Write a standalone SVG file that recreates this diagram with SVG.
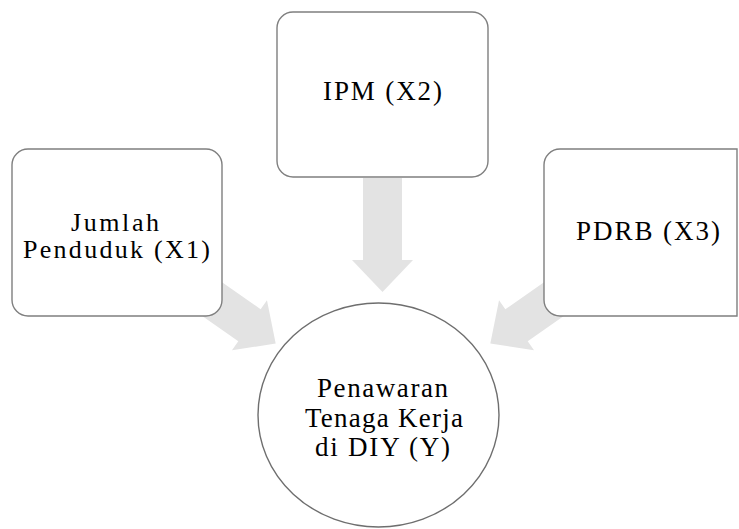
<svg xmlns="http://www.w3.org/2000/svg" width="739" height="529" viewBox="0 0 739 529">
<style>
.box{fill:#ffffff;stroke:#7f7f7f;stroke-width:1.4}
.circ{fill:#ffffff;stroke:#6e6e6e;stroke-width:1.4}
.arr{fill:#e3e3e3}
.t{font-family:"Liberation Serif","Times New Roman",serif;font-size:27px;fill:#000000;text-anchor:middle}
.t2{font-size:26px}
</style>
<defs>
<polygon id="arrowShape" points="0,-19.5 82,-19.5 82,-30.5 114,0 82,30.5 82,19.5 0,19.5"/>
</defs>
<g id="connectors">
<use href="#arrowShape" class="arr" transform="translate(382.5,178) rotate(90)"/>
<use href="#arrowShape" class="arr" transform="translate(182.3,278.2) rotate(35)"/>
<use href="#arrowShape" class="arr" transform="translate(583.7,278.2) rotate(145)"/>
</g>
<g id="node-x1">
<rect class="box" x="12" y="149" width="210" height="167" rx="16" ry="16"/>
<text class="t t2" x="115" y="231" textLength="88" lengthAdjust="spacing">Jumlah</text>
<text class="t t2" x="116.5" y="258" textLength="187" lengthAdjust="spacing">Penduduk (X1)</text>
</g>
<g id="node-x2">
<rect class="box" x="277" y="12" width="211" height="165" rx="16" ry="16"/>
<text class="t" x="382.5" y="100" textLength="119" lengthAdjust="spacing">IPM (X2)</text>
</g>
<g id="node-x3">
<path class="box" d="M560,149 H737 V316 H560 A16,16 0 0 1 544,300 V165 A16,16 0 0 1 560,149 Z"/>
<text class="t" x="648" y="240" textLength="144" lengthAdjust="spacing">PDRB (X3)</text>
</g>
<g id="node-y">
<ellipse class="circ" cx="378.5" cy="415" rx="120.5" ry="112"/>
<text class="t" x="382.5" y="397" textLength="131" lengthAdjust="spacing">Penawaran</text>
<text class="t" x="384" y="427" textLength="158" lengthAdjust="spacing">Tenaga Kerja</text>
<text class="t" x="382.5" y="456" textLength="135" lengthAdjust="spacing">di DIY (Y)</text>
</g>
</svg>
